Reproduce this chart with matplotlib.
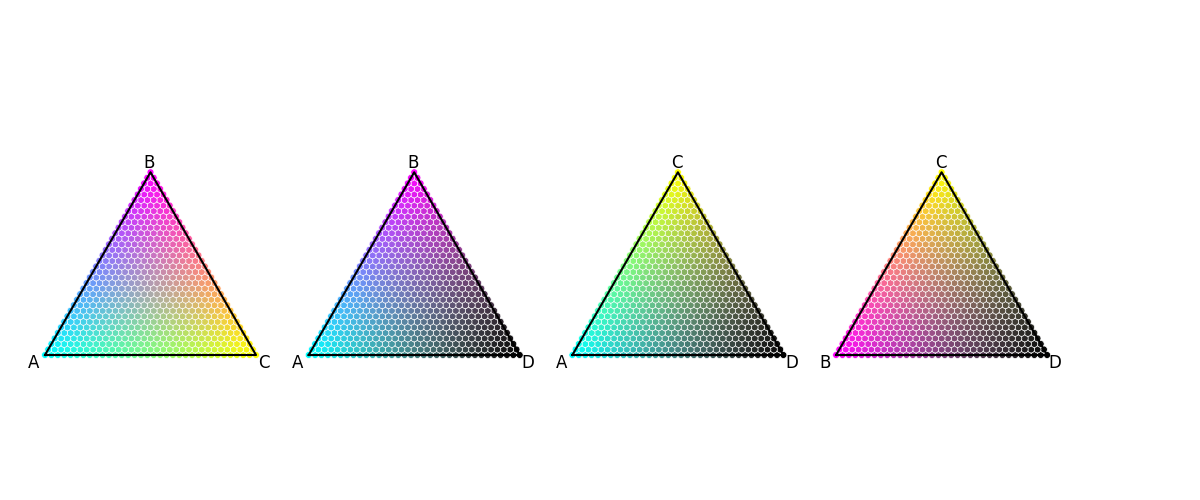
import numpy as np
import matplotlib
matplotlib.use("Agg")
import matplotlib.pyplot as plt

# corners are inks: A=cyan, B=magenta, C=yellow, D=black (CMYK order)
corner_names = ["A", "B", "C", "D"]
corner_ink = {"A": 0, "B": 1, "C": 2, "D": 3}
triangles = [("A", "B", "C"), ("A", "B", "D"), ("A", "C", "D"), ("B", "C", "D")]
scale = 33

W, H = 1200, 500
fig = plt.figure(figsize=(12, 5), dpi=100)

h = np.sqrt(3) / 2
px_per_unit = 211 / scale
pad = 2.0
left0 = 45
step = 263.7
bottom_px = 355  # from top

# simplex lattice (left, top, right weights)
pts = [(i, j, scale - i - j) for j in range(scale + 1) for i in range(scale + 1 - j)]
pts = np.array(pts, dtype=float)
xs = pts[:, 2] + pts[:, 1] / 2
ys = pts[:, 1] * h


def cmyk_to_rgb(cmyk):
    c, m, y, k = cmyk.T
    return np.column_stack([(1 - c) * (1 - k), (1 - m) * (1 - k), (1 - y) * (1 - k)])


for n, (l, t, r) in enumerate(triangles):
    x0 = left0 + n * step - pad * px_per_unit
    y0 = (H - bottom_px) - pad * px_per_unit
    w = (scale + 2 * pad) * px_per_unit
    hh = (scale * h + 2 * pad) * px_per_unit
    ax = fig.add_axes([x0 / W, y0 / H, w / W, hh / H])
    ax.set_xlim(-pad, scale + pad)
    ax.set_ylim(-pad, scale * h + pad)
    ax.axis("off")

    cmyk = np.zeros((len(pts), 4))
    cmyk[:, corner_ink[l]] = pts[:, 0] / scale
    cmyk[:, corner_ink[t]] = pts[:, 1] / scale
    cmyk[:, corner_ink[r]] = pts[:, 2] / scale
    cols = np.clip(cmyk_to_rgb(cmyk), 0, 1)
    ax.scatter(xs, ys, c=cols, s=25, edgecolors="white", linewidths=0.5, zorder=2)

    corners = [(0, 0), (scale / 2, scale * h), (scale, 0)]
    ax.plot([c[0] for c in corners] + [0], [c[1] for c in corners] + [0],
            color="black", lw=1.5, zorder=3, clip_on=False)

    ax.annotate(l, xy=corners[0], xytext=(-11, -8), textcoords="offset pixels",
                ha="center", va="center", fontsize=12)
    ax.annotate(t, xy=corners[1], xytext=(-1, 9), textcoords="offset pixels",
                ha="center", va="center", fontsize=12)
    ax.annotate(r, xy=corners[2], xytext=(8, -8), textcoords="offset pixels",
                ha="center", va="center", fontsize=12)

fig.savefig("out.png", dpi=100)
